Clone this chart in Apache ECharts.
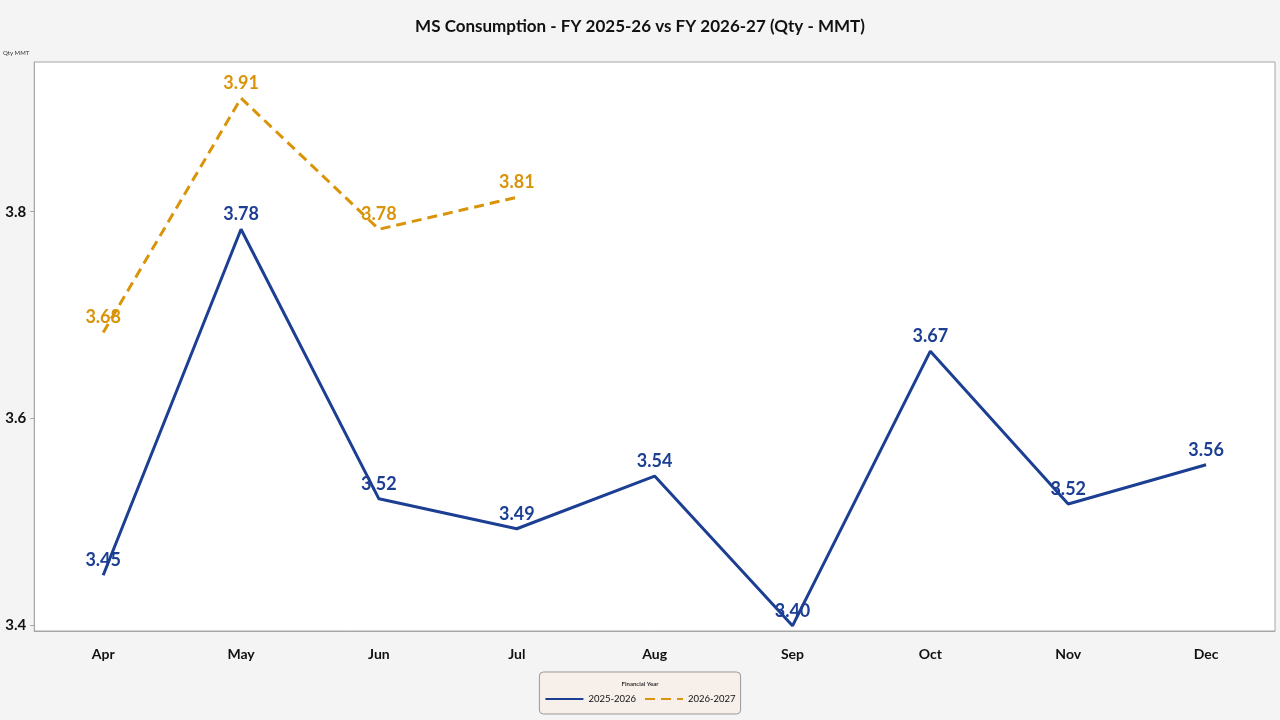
<!DOCTYPE html>
<html><head><meta charset="utf-8">
<script src="https://cdn.jsdelivr.net/npm/echarts@6/dist/echarts.min.js"></script>
<style>html,body{margin:0;padding:0;background:#f4f4f4;}#c{width:1280px;height:720px;}</style>
</head><body><div id="c"></div>
<script>
const months = ['Apr','May','Jun','Jul','Aug','Sep','Oct','Nov','Dec'];
const fy2526 = [3.448, 3.783, 3.522, 3.493, 3.544, 3.399, 3.665, 3.517, 3.555];
const fy2627 = [3.683, 3.910, 3.783, 3.814];
const yTicks = [3.4, 3.6, 3.8];
const seriesNames = ['2025-2026', '2026-2027'];

const FONT = 'Lato';
const BLUE = '#1c3f94';
const ORANGE = '#d9940a';

function labelSeries(name, data, color) {
  return { name: name + ' labels', type: 'scatter', data: data, symbolSize: 0.01,
    itemStyle: { color: color, opacity: 1 }, silent: true, z: 5,
    label: { show: true, position: 'top', distance: 6, color: color, opacity: 1, fontFamily: FONT, fontSize: 18, fontWeight: 'bold',
      formatter: p => p.value.toFixed(2) } };
}

const chart = echarts.init(document.getElementById('c'));
chart.setOption({
  backgroundColor: '#f4f4f4',
  animation: false,
  textStyle: { fontFamily: FONT },
  title: [
    { text: 'MS Consumption - FY 2025-26 vs FY 2026-27 (Qty - MMT)', left: 'center', top: 13,
      textStyle: { fontFamily: FONT, fontSize: 17, fontWeight: 'bold', color: '#111' } },
    { text: 'Financial Year', left: 'center', top: 676,
      textStyle: { fontFamily: FONT, fontSize: 6, fontWeight: 'bold', color: '#333' } }
  ],
  legend: {
    data: seriesNames,
    left: 'center', top: 672,
    backgroundColor: '#f7efe9', borderColor: '#999', borderWidth: 1, borderRadius: 4,
    padding: [22, 5, 10, 5],
    itemWidth: 38, itemHeight: 10, itemGap: 8,
    itemStyle: { color: 'rgba(0,0,0,0)', borderColor: 'rgba(0,0,0,0)', borderWidth: 0, opacity: 0 },
    textStyle: { fontFamily: FONT, fontSize: 9.5, color: '#111' }
  },
  grid: { left: 33, right: 5, top: 62, bottom: 89, show: true, backgroundColor: '#fff', borderColor: '#a6a6a6', borderWidth: 1 },
  xAxis: {
    type: 'category', data: months, boundaryGap: true,
    axisLine: { lineStyle: { color: '#a6a6a6' } },
    axisTick: { alignWithLabel: true, length: 6, lineStyle: { color: '#a6a6a6' } },
    axisLabel: { fontFamily: FONT, fontSize: 14, fontWeight: 'bold', color: '#111', margin: 16 }
  },
  yAxis: {
    type: 'value', min: 3.394, max: 3.945,
    name: 'Qty MMT', nameLocation: 'end', nameGap: 6,
    nameTextStyle: { fontFamily: FONT, fontSize: 6, color: '#333', align: 'right', padding: [0, 5, 0, 0] },
    splitLine: { show: false },
    axisLine: { show: true, lineStyle: { color: '#a6a6a6' } },
    axisTick: { show: true, length: 4, customValues: yTicks, lineStyle: { color: '#a6a6a6' } },
    axisLabel: { customValues: yTicks, fontFamily: FONT, fontSize: 15, fontWeight: 'bold', color: '#111', margin: 8,
      formatter: v => v.toFixed(1) }
  },
  series: [
    { name: seriesNames[0], type: 'line', data: fy2526, symbol: 'none',
      lineStyle: { color: BLUE, width: 3 }, itemStyle: { color: BLUE } },
    { name: seriesNames[1], type: 'line', data: fy2627, symbol: 'none',
      lineStyle: { color: ORANGE, width: 3, type: [10, 6] }, itemStyle: { color: ORANGE } },
    labelSeries(seriesNames[0], fy2526, BLUE),
    labelSeries(seriesNames[1], fy2627, ORANGE)
  ]
});
</script>
</body></html>
